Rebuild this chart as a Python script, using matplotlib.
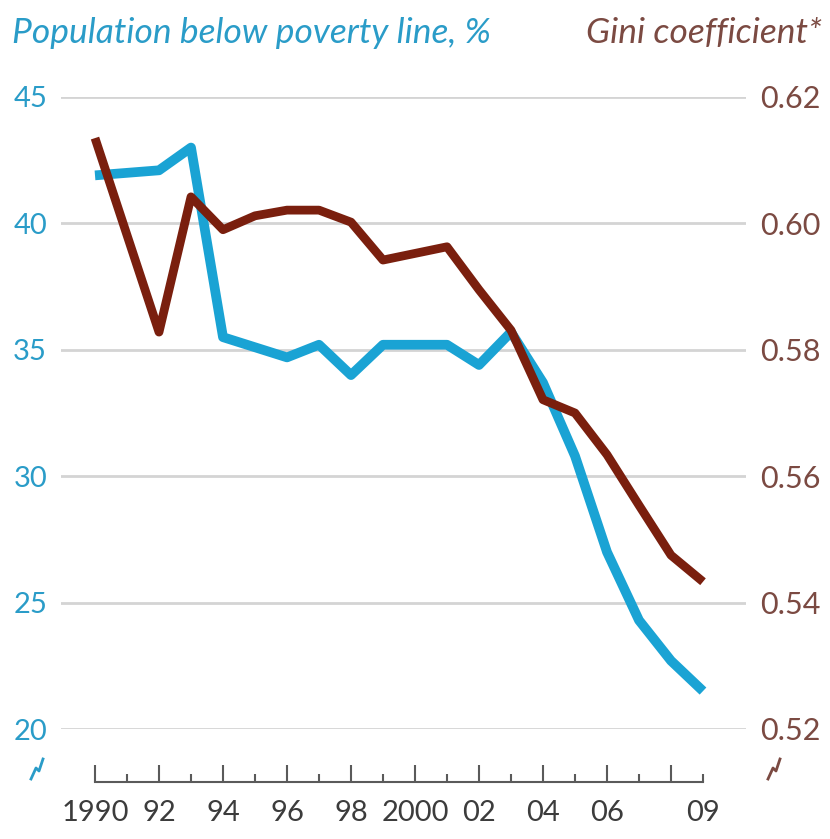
import matplotlib
matplotlib.use("Agg")
import matplotlib.pyplot as plt
from matplotlib.lines import Line2D

# ---- data ----
YEARS = [1990, 1992, 1993, 1994, 1995, 1996, 1997, 1998, 1999,
         2001, 2002, 2003, 2004, 2005, 2006, 2007, 2008, 2009]
POVERTY = [41.9, 42.1, 43.0, 35.5, 35.1, 34.7, 35.2, 34.0, 35.2,
           35.2, 34.4, 35.7, 33.7, 30.8, 27.0, 24.3, 22.7, 21.5]
GINI = [0.6135, 0.5828, 0.6042, 0.5990, 0.6012, 0.6021, 0.6021, 0.6002, 0.5942,
        0.5963, 0.5895, 0.5831, 0.5721, 0.5700, 0.5634, 0.5554, 0.5475, 0.5433]

LEFT_TICKS = [20, 25, 30, 35, 40, 45]
RIGHT_TICKS = [0.52, 0.54, 0.56, 0.58, 0.60, 0.62]
MAJOR_YEARS = list(range(1990, 2009, 2))
MAJOR_LABELS = ["1990", "92", "94", "96", "98", "2000", "02", "04", "06", ""]
MINOR_YEARS = list(range(1991, 2010, 2))
MINOR_LABELS = [""] * 9 + ["09"]

BLUE = "#1aa3d4"
BLUE_TXT = "#2a9cc8"
BROWN = "#7a1f0e"
BROWN_TXT = "#7b4a42"
GRID = "#d4d4d4"
AXIS = "#5a5a5a"

plt.rcParams["font.family"] = ["Lato", "DejaVu Sans"]

W, H = 830, 839
fig = plt.figure(figsize=(W / 100, H / 100), dpi=100)
fig.patch.set_facecolor("white")

ax = fig.add_axes([61 / W, 1 - 729 / H, 685 / W, 632 / H])
ax.set_xlim(1990 - 34 / 32.0, 2009 + 43 / 32.0)
ax.set_ylim(20, 45)
for s in ["top", "left", "right"]:
    ax.spines[s].set_visible(False)

ax.set_yticks(LEFT_TICKS)
ax.tick_params(axis="y", length=0, pad=10, labelsize=21, labelcolor=BLUE_TXT)
ax.grid(axis="y", color=GRID, linewidth=2)
ax.set_axisbelow(True)

# x axis sits below the plot, detached
ax.spines["bottom"].set_position(("outward", 38))
ax.spines["bottom"].set_bounds(1990, 2009)
ax.spines["bottom"].set_color(AXIS)
ax.spines["bottom"].set_linewidth(1.5)
ax.set_xticks(MAJOR_YEARS, labels=MAJOR_LABELS)
ax.set_xticks(MINOR_YEARS, labels=MINOR_LABELS, minor=True)
ax.tick_params(axis="x", which="both", direction="in", color=AXIS, width=1.5,
               labelsize=21, labelcolor="#3c3c3c", pad=13)
ax.tick_params(axis="x", which="major", length=12)
ax.tick_params(axis="x", which="minor", length=6)

ax2 = ax.twinx()
ax2.set_ylim(0.52, 0.62)
for s in ax2.spines.values():
    s.set_visible(False)
ax2.set_yticks(RIGHT_TICKS, labels=[f"{v:.2f}" for v in RIGHT_TICKS])
ax2.tick_params(axis="y", length=0, pad=10, labelsize=22, labelcolor=BROWN_TXT)

ax.plot(YEARS, POVERTY, color=BLUE, linewidth=7, solid_joinstyle="round",
        solid_capstyle="butt", zorder=3)
ax2.plot(YEARS, GINI, color=BROWN, linewidth=6.3, solid_joinstyle="round",
         solid_capstyle="butt", zorder=4)

fig.text(12 / W, 1 - 33 / H, "Population below poverty line, %", color=BLUE_TXT,
         fontsize=25.5, style="italic", ha="left", va="center")
fig.text(822 / W, 1 - 33 / H, "Gini coefficient*", color=BROWN_TXT,
         fontsize=25.5, style="italic", ha="right", va="center")


# axis-break marks
def brk(cx, cy, color):
    xs = [-6, -1, 2, 6]
    ys = [-10, 1, -2, 10]
    fig.add_artist(Line2D([(cx + x) / W for x in xs], [1 - (cy - y) / H for y in ys],
                          color=color, linewidth=2, transform=fig.transFigure))


brk(37, 769, BLUE_TXT)
brk(774, 769, BROWN_TXT)

fig.savefig("out.png", dpi=100, facecolor="white")
